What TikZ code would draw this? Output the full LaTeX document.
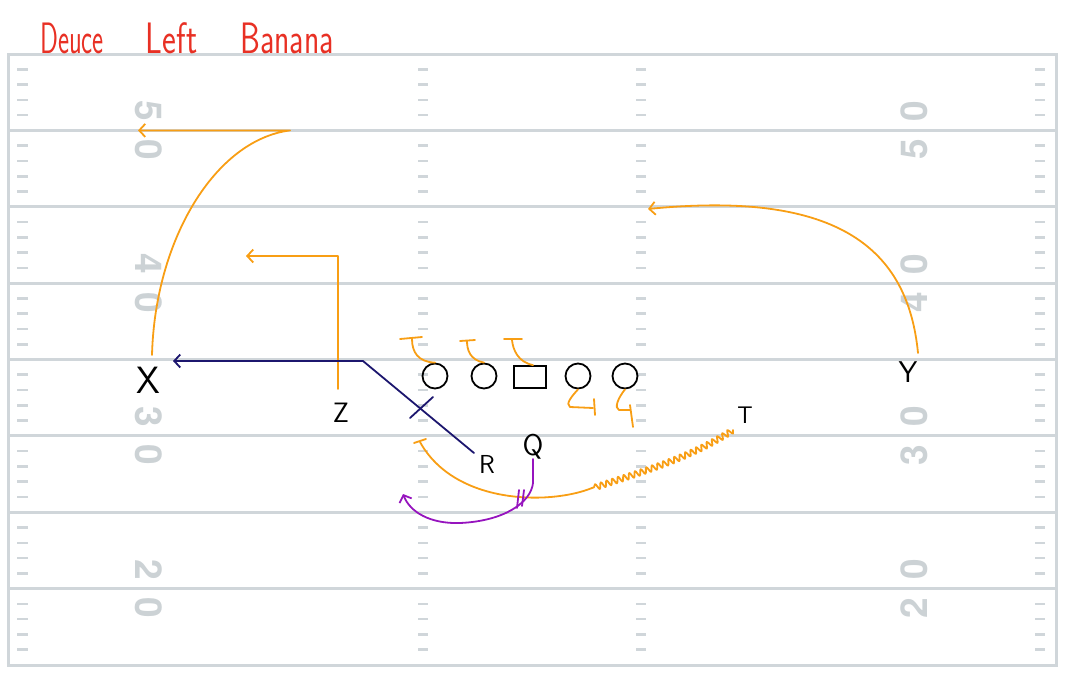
\documentclass[tikz,border=0pt]{standalone}
\usepackage{graphicx}
\usepackage{fontspec}
\newfontfamily\numfont{TeX Gyre Heros}
\usetikzlibrary{arrows.meta,decorations.pathmorphing}
\definecolor{fieldgray}{RGB}{208,214,218}
\definecolor{numgray}{RGB}{204,210,213}
\definecolor{routeorange}{RGB}{248,158,20}
\definecolor{navyroute}{RGB}{28,22,110}
\definecolor{purpleroute}{RGB}{150,20,190}
\definecolor{titlered}{RGB}{232,48,36}
\tikzset{
  yardline/.style={draw=fieldgray,line width=3pt},
  hashmark/.style={draw=fieldgray,line width=2.6pt},
  fieldnum/.style={text=numgray,inner sep=0pt,font=\fontsize{37}{37}\selectfont\numfont\bfseries},
  route/.style={draw=routeorange,line width=1.8pt,line cap=round,line join=round},
  navy/.style={draw=navyroute,line width=1.8pt,line cap=round,line join=round},
  purp/.style={draw=purpleroute,line width=1.8pt,line cap=round,line join=round},
  barb/.style={-{Straight Barb[length=6pt,width=13pt]}},
  lineman/.style={circle,draw=black,line width=1.8pt,minimum size=25pt,inner sep=0pt},
  centerbox/.style={rectangle,draw=black,line width=1.8pt,minimum width=32pt,minimum height=22pt,inner sep=0pt},
  lbl/.style={text=black,inner sep=0pt},
}
\begin{document}
\begin{tikzpicture}[x=1pt,y=-1pt]
\useasboundingbox (0,0) rectangle (1067,675);
% field
\foreach \i in {1,...,7} \draw[yardline] (8,54+76.375*\i) -- (1056,54+76.375*\i);
\draw[yardline] (8,54) rectangle (1056,665);
\foreach \i in {0,...,7} \foreach \k in {1,...,4} {
  \pgfmathsetmacro\yy{54+76.375*\i+15.275*\k}
  \draw[hashmark] (17,\yy) -- (28,\yy) (418,\yy) -- (428,\yy) (636,\yy) -- (646,\yy) (1035,\yy) -- (1045,\yy);
}
% numbers
\node[fieldnum,rotate=-90] (n50l) at (149,130.4) {5\hspace{18pt}0};
\node[fieldnum,rotate=-90] (n40l) at (149,283.1) {4\hspace{18pt}0};
\node[fieldnum,rotate=-90] (n30l) at (149,435.9) {3\hspace{18pt}0};
\node[fieldnum,rotate=-90] (n20l) at (149,588.6) {2\hspace{18pt}0};
\node[fieldnum,rotate=90] (n50r) at (914,130.4) {5\hspace{18pt}0};
\node[fieldnum,rotate=90] (n40r) at (914,283.1) {4\hspace{18pt}0};
\node[fieldnum,rotate=90] (n30r) at (914,435.9) {3\hspace{18pt}0};
\node[fieldnum,rotate=90] (n20r) at (914,588.6) {2\hspace{18pt}0};
% title
\node[anchor=base west,text=titlered,inner sep=0pt,font=\fontsize{44}{44}\selectfont\sffamily] (title) at (40,53) {\scalebox{0.6}[1]{Deuce}\hspace{42pt}\scalebox{0.75}[1]{Left}\hspace{43pt}\scalebox{0.72}[1]{Banana}};
% players
\node[lineman] (L1) at (435,376) {};
\node[lineman] (L2) at (484,376) {};
\node[centerbox] (C) at (530,377) {};
\node[lineman] (L4) at (578,376) {};
\node[lineman] (L5) at (625,376) {};
\node[lbl,font=\fontsize{38}{38}\selectfont\sffamily] (X) at (148,380) {X};
\node[lbl,font=\fontsize{28}{28}\selectfont\sffamily] (Z) at (341,413) {Z};
\node[lbl,font=\fontsize{30}{30}\selectfont\sffamily] (Y) at (908,372) {Y};
\node[lbl,font=\fontsize{26}{26}\selectfont\sffamily] (R) at (487,464) {R};
\node[lbl,font=\fontsize{30}{30}\selectfont\sffamily] (Q) at (533,447) {Q};
\node[lbl,font=\fontsize{24}{24}\selectfont\sffamily] (T) at (745,415) {T};
% route coordinates
\coordinate (xs) at (152,355); \coordinate (xb) at (290,130.4); \coordinate (xe) at (138,130.4);
\coordinate (zs) at (338,389); \coordinate (zt) at (338,256); \coordinate (ze) at (246,256);
\coordinate (ys) at (918,353); \coordinate (ye) at (648,209);
\coordinate (rs) at (474,453); \coordinate (rb) at (363,361); \coordinate (re) at (173,361);
\coordinate (ca) at (410,418); \coordinate (cb) at (433,397);
\coordinate (ts) at (733,430); \coordinate (tm) at (592,488); \coordinate (tb) at (420,442);
\coordinate (qs) at (533,459); \coordinate (qb) at (533,483); \coordinate (qm) at (460,523); \coordinate (qe) at (403,494);
% X route
\draw[route,barb] (xs) .. controls (155,240) and (215,140) .. (xb) -- (xe);
% Z route
\draw[route,barb] (zs) -- (zt) -- (ze);
% Y route
\draw[route,barb] (ys) .. controls (908,250) and (840,190) .. (ye);
% line blocks
\draw[route] (L1.north) .. controls (418,362) and (412,352) .. (412,339);
\draw[route] (400,339) -- (422,337);
\draw[route] (L2.north) .. controls (470,360) and (467,350) .. (467,341);
\draw[route] (460,341) -- (475,340);
\draw[route] ([xshift=3pt]C.north) .. controls (518,362) and (513,350) .. (512,340);
\draw[route] (504,339) -- (522,339);
\draw[route] (L4.south) .. controls (572,396) and (565,404) .. (570,407) -- (593,408);
\draw[route] (594,399) -- (595,415);
\draw[route] (L5.south) .. controls (618,398) and (614,408) .. (619,410) -- (630,410);
\draw[route] (630,405) -- (633,427);
% T route
\draw[route,decorate,decoration={snake,amplitude=3pt,segment length=6pt}] (ts) .. controls (690,458) and (640,472) .. (tm);
\draw[route] (tm) .. controls (550,505) and (455,505) .. (tb);
\draw[route] (414,443) -- (426,439);
% R route
\draw[navy,barb] (rs) -- (rb) -- (re);
\draw[navy] (ca) -- (cb);
% Q route
\draw[purp,barb] (qs) -- (qb) .. controls (531,502) and (505,521) .. (qm) .. controls (430,524) and (410,512) .. (qe);
\draw[purp] (519,490) -- (517,508);
\draw[purp] (524,490) -- (522,506);
\end{tikzpicture}
\end{document}
